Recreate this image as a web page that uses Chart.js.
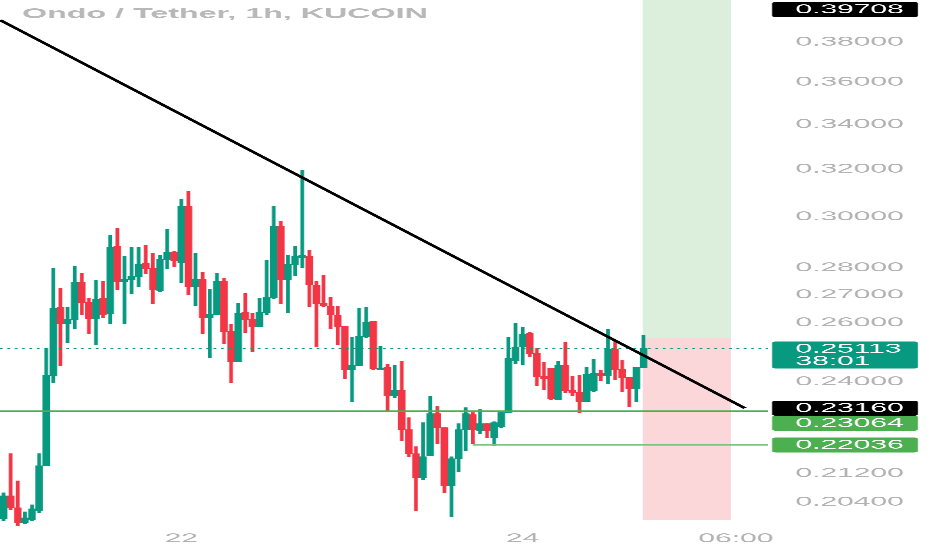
<!DOCTYPE html>
<html>
<head>
<meta charset="utf-8">
<script src="https://cdn.jsdelivr.net/npm/chart.js@4.4.1/dist/chart.umd.min.js"></script>
<style>
html,body{margin:0;padding:0;background:#fff;overflow:hidden}
</style>
</head>
<body>
<canvas id="c" width="405" height="550" style="display:block;width:932px;height:550px"></canvas>
<script>
// ---- data (Ondo / Tether, 1h, KuCoin) ----
const title = 'Ondo / Tether, 1h, KUCOIN';
const opens = [0.19938,0.20569,0.20239,0.19829,0.19911,0.20157,0.21424,0.24202,0.26538,0.25968,
0.26109,0.27451,0.26717,0.26145,0.26863,0.26324,0.28825,0.27488,0.27563,0.27676,
0.28168,0.27979,0.27157,0.2832,0.28592,0.28206,0.3043,0.27304,0.27563,0.2618,
0.26288,0.27488,0.25689,0.24664,0.26359,0.26109,0.25863,0.26359,0.269,0.29617,
0.27563,0.2813,0.28398,0.28437,0.27341,0.26682,0.26574,0.26252,0.25863,0.244,
0.24532,0.25514,0.26038,0.244,0.24466,0.23555,0.23716,0.22495,0.21775,0.21078,
0.21716,0.22987,0.22556,0.20854,0.21627,0.22495,0.22956,0.22465,0.22678,0.22252,
0.22586,0.23019,0.24697,0.25172,0.25619,0.24935,0.24169,0.24433,0.23427,0.24532,
0.23716,0.23652,0.23363,0.23716,0.24268,0.24202,0.25071,0.244,0.24136,0.2378,
0.24466];
const highs = [0.20654,0.21775,0.20991,0.20129,0.20321,0.21775,0.25105,0.27979,0.27231,0.26538,
0.28054,0.2779,0.26863,0.27525,0.27488,0.29258,0.29537,0.28437,0.28786,0.28786,
0.28864,0.28554,0.28476,0.29497,0.28631,0.30719,0.31056,0.28554,0.27828,0.27194,
0.2779,0.27601,0.25933,0.26682,0.27047,0.26324,0.26863,0.28281,0.3043,0.29816,
0.28476,0.28825,0.31952,0.2867,0.27488,0.27714,0.269,0.26574,0.25863,0.2548,
0.26503,0.26538,0.26038,0.25172,0.24565,0.24532,0.24664,0.22862,0.21982,0.22708,
0.23523,0.23207,0.22556,0.21686,0.22678,0.23175,0.23019,0.23113,0.22678,0.22738,
0.2305,0.2548,0.25968,0.25829,0.25654,0.25105,0.24631,0.24433,0.24664,0.25308,
0.24169,0.24202,0.24466,0.24732,0.24367,0.25759,0.25376,0.24697,0.24136,0.24466,
0.25549];
const lows = [0.19884,0.20184,0.19749,0.19802,0.19884,0.20102,0.21424,0.23973,0.24532,0.25308,
0.25794,0.26288,0.25619,0.2524,0.2618,0.25968,0.27194,0.25968,0.27047,0.27304,
0.2779,0.26682,0.2712,0.27979,0.28054,0.27451,0.2701,0.2661,0.25619,0.24799,
0.26288,0.25274,0.23973,0.24664,0.25654,0.25003,0.25863,0.26288,0.26863,0.26682,
0.26359,0.27714,0.28016,0.26574,0.25172,0.26574,0.25794,0.2524,0.24103,0.23363,
0.24532,0.2548,0.244,0.244,0.23081,0.23491,0.2216,0.21686,0.20157,0.2102,
0.21716,0.22071,0.20654,0.19993,0.21251,0.21864,0.22071,0.22374,0.22252,0.22012,
0.22556,0.23019,0.24598,0.24565,0.24833,0.23876,0.23748,0.23427,0.23427,0.23652,
0.23555,0.23019,0.23363,0.23684,0.24037,0.23941,0.2407,0.23684,0.23207,0.23363,
0.24466];
const closes = [0.20569,0.20239,0.19829,0.19966,0.20211,0.21424,0.24202,0.26503,0.25968,0.26109,
0.27451,0.26717,0.26145,0.26826,0.26288,0.28786,0.27488,0.27563,0.27676,0.2813,
0.27979,0.27194,0.2832,0.28592,0.28281,0.3043,0.27304,0.27563,0.2618,0.26288,
0.27488,0.25689,0.24664,0.26324,0.26109,0.25863,0.26359,0.269,0.29617,0.27563,
0.2813,0.28437,0.28476,0.27378,0.26682,0.2661,0.26288,0.25863,0.244,0.24532,
0.25514,0.26003,0.24433,0.24433,0.23555,0.23716,0.22495,0.21775,0.21078,0.21686,
0.22987,0.22556,0.20854,0.21627,0.22495,0.22987,0.22495,0.22678,0.22465,0.22708,
0.23019,0.24766,0.25138,0.25584,0.24935,0.24169,0.24103,0.23459,0.24532,0.23716,
0.23652,0.23363,0.24235,0.24268,0.24202,0.25071,0.244,0.24136,0.2378,0.24466,
0.25113];

// hour slots on the time axis (candle i sits at hour i)
const hourRange = [-0.5, 107.5];
const xTickHours = [25, 73, 103];
const xTickLabels = ['22', '24', '06:00'];

// price axis (log)
const priceRange = [0.19722, 0.40225];
const yTickValues = [0.38, 0.36, 0.34, 0.32, 0.30, 0.28, 0.27, 0.26, 0.24, 0.212, 0.204];

// drawings
const trendHours = [-0.5, 104.27];
const trendPrices = [0.3915, 0.2316];
const supportPrice = 0.23064;
const supportHours = [-0.5, 107.5];
const lowLevelPrice = 0.22036;
const lowLevelHours = [66, 107.5];
const lastPrice = 0.25113;
const countdown = '38:01';
const positionHours = [89.88, 102.3];
const positionPrices = { target: 0.41, entry: 0.2548, stop: 0.19911 };
const markerPrices = [0.39708, 0.25113, 0.23160, 0.23064, 0.22036];

// ---- styling ----
const UP = '#089981', DOWN = '#f23645';
const AXIS_TXT = '#b2b2b2';
const FONT = 'Liberation Sans';
const markerColors = ['#000000', '#089981', '#000000', '#4caf50', '#4caf50'];

const candleColor = c => closes[c.dataIndex] >= opens[c.dataIndex] ? UP : DOWN;

const overlay = {
  id: 'overlay',
  beforeDatasetsDraw(chart) {
    const { ctx, chartArea: a, scales: { x, y } } = chart;
    ctx.save();
    ctx.beginPath();
    ctx.rect(a.left, a.top, a.right - a.left, a.bottom - a.top);
    ctx.clip();
    const x0 = x.getPixelForValue(positionHours[0]);
    const x1 = x.getPixelForValue(positionHours[1]);
    const yT = y.getPixelForValue(positionPrices.target);
    const yE = y.getPixelForValue(positionPrices.entry);
    const yS = y.getPixelForValue(positionPrices.stop);
    ctx.fillStyle = 'rgba(76,175,80,0.2)';
    ctx.fillRect(x0, yT, x1 - x0, yE - yT);
    ctx.fillStyle = 'rgba(242,54,69,0.2)';
    ctx.fillRect(x0, yE, x1 - x0, yS - yE);
    ctx.restore();
  },
  afterDraw(chart) {
    const { ctx, scales: { y } } = chart;
    ctx.save();
    // title / legend
    ctx.font = 'bold 14px "' + FONT + '"';
    ctx.fillStyle = '#b8b8b8';
    ctx.textBaseline = 'middle';
    ctx.textAlign = 'left';
    ctx.fillText(title, 9.6, 14);
    // price labels on the axis
    const boxL = y.left + 1.8, boxW = 63.4, textX = y.left + 12;
    let prevBottom = -Infinity;
    const items = markerPrices.map((v, i) => ({ v, i, p: y.getPixelForValue(v) }))
      .sort((a, b) => a.p - b.p);
    ctx.font = '13px "' + FONT + '"';
    items.forEach(it => {
      const two = it.v === lastPrice;
      const h = two ? 27 : 15;
      let top = it.p - (two ? 6.8 : 7.5);
      if (top < prevBottom) top = prevBottom;
      prevBottom = top + h;
      ctx.fillStyle = markerColors[it.i];
      ctx.beginPath();
      ctx.roundRect(boxL, top, boxW, h, 1.5);
      ctx.fill();
      ctx.fillStyle = '#ffffff';
      ctx.fillText(it.v.toFixed(5), textX, top + 7.6);
      if (two) ctx.fillText(countdown, textX, top + 20);
    });
    ctx.restore();
  }
};

const idx = opens.map((_, i) => i);

new Chart(document.getElementById('c'), {
  type: 'bar',
  data: {
    datasets: [
      {
        type: 'line', order: 0,
        data: trendHours.map((h, i) => ({ x: h, y: trendPrices[i] })),
        borderColor: '#000000', borderWidth: 2, pointRadius: 0, fill: false
      },
      {
        type: 'line', order: 1,
        data: supportHours.map(h => ({ x: h, y: supportPrice })),
        borderColor: '#4caf50', borderWidth: 1.6, pointRadius: 0, fill: false
      },
      {
        type: 'line', order: 2,
        data: lowLevelHours.map(h => ({ x: h, y: lowLevelPrice })),
        borderColor: '#7cc47f', borderWidth: 1.2, pointRadius: 0, fill: false
      },
      {
        type: 'line', order: 3,
        data: supportHours.map(h => ({ x: h, y: lastPrice })),
        borderColor: '#089981', borderWidth: 1, borderDash: [1.2, 2], pointRadius: 0, fill: false
      },
      {
        type: 'bar', order: 4, grouped: false,
        data: idx.map(i => ({ x: i, y: [opens[i], closes[i]] })),
        backgroundColor: candleColor, borderWidth: 0,
        barThickness: 2.6, minBarLength: 1
      },
      {
        type: 'bar', order: 5, grouped: false,
        data: idx.map(i => ({ x: i, y: [lows[i], highs[i]] })),
        backgroundColor: candleColor, borderWidth: 0,
        barThickness: 0.95, minBarLength: 1
      }
    ]
  },
  options: {
    responsive: false,
    devicePixelRatio: 3,
    animation: false,
    events: [],
    layout: { padding: 0 },
    plugins: { legend: { display: false }, tooltip: { enabled: false }, title: { display: false } },
    scales: {
      x: {
        type: 'linear', position: 'bottom', offset: false,
        min: hourRange[0], max: hourRange[1],
        grid: { display: false, drawTicks: false, offset: false }, border: { display: false },
        afterBuildTicks: s => { s.ticks = xTickHours.map(v => ({ value: v })); },
        afterFit: s => { s.height = 23; s.paddingLeft = 0; s.paddingRight = 0; },
        ticks: {
          autoSkip: false, maxRotation: 0, padding: 4, color: AXIS_TXT,
          font: { family: FONT, size: 13 },
          callback: (v, i) => xTickLabels[i]
        }
      },
      y: {
        type: 'logarithmic', position: 'right', bounds: 'data',
        min: priceRange[0], max: priceRange[1],
        grid: { display: false, drawTicks: false }, border: { display: false },
        afterBuildTicks: s => { s.ticks = yTickValues.map(v => ({ value: v })); },
        afterFit: s => { s.width = 71.3; s.paddingTop = 0; s.paddingBottom = 0; },
        ticks: {
          autoSkip: false, padding: 12, color: AXIS_TXT,
          font: { family: FONT, size: 13 },
          callback: v => Number(v).toFixed(5)
        }
      }
    }
  },
  plugins: [overlay]
});
</script>
</body>
</html>
